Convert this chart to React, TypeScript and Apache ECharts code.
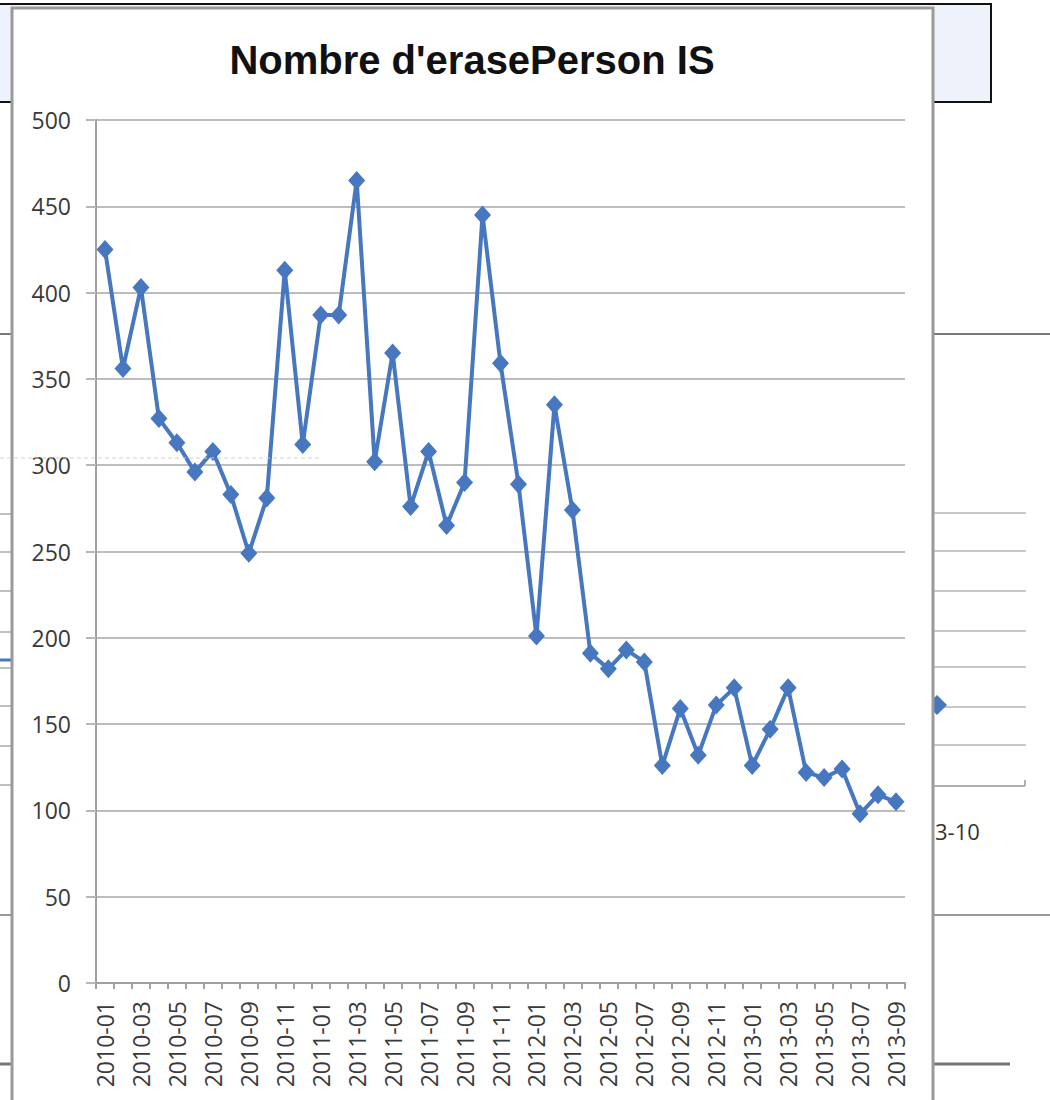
import React, { useEffect, useRef } from "react";
import * as echarts from "echarts";

const months: string[] = [
  "2010-01", "2010-02", "2010-03", "2010-04", "2010-05", "2010-06",
  "2010-07", "2010-08", "2010-09", "2010-10", "2010-11", "2010-12",
  "2011-01", "2011-02", "2011-03", "2011-04", "2011-05", "2011-06",
  "2011-07", "2011-08", "2011-09", "2011-10", "2011-11", "2011-12",
  "2012-01", "2012-02", "2012-03", "2012-04", "2012-05", "2012-06",
  "2012-07", "2012-08", "2012-09", "2012-10", "2012-11", "2012-12",
  "2013-01", "2013-02", "2013-03", "2013-04", "2013-05", "2013-06",
  "2013-07", "2013-08", "2013-09",
];

const erasePersonCounts: number[] = [
  425, 356, 403, 327, 313, 296, 308, 283, 249, 281, 413, 312,
  387, 387, 465, 302, 365, 276, 308, 265, 290, 445, 359, 289,
  201, 335, 274, 191, 182, 193, 186, 126, 159, 132, 161, 171,
  126, 147, 171, 122, 119, 124, 98, 109, 105,
];

const yMin = 0;
const yMax = 500;
const yStep = 50;

const chartTitle = "Nombre d'erasePerson IS";
const sideLabel = "3-10";

const LINE_BLUE = "#4677BF";

export default function App() {
  const ref = useRef<HTMLDivElement>(null);

  useEffect(() => {
    if (!ref.current) return;
    const chart = echarts.init(ref.current, undefined, { renderer: "svg" });

    const bg: any[] = [];
    bg.push({
      type: "rect", z: 0,
      shape: { x: -2, y: 4, width: 993, height: 98 },
      style: { fill: "#EEF2FB", stroke: "#111", lineWidth: 2 },
    });
    bg.push({ type: "line", z: 0, shape: { x1: 933, y1: 334, x2: 1050, y2: 334 }, style: { stroke: "#777", lineWidth: 2 } });
    [513, 551, 591, 631, 667, 707, 745].forEach((y) =>
      bg.push({ type: "line", z: 0, shape: { x1: 933, y1: y, x2: 1026, y2: y }, style: { stroke: "#C8C8C8", lineWidth: 2 } })
    );
    bg.push({ type: "line", z: 0, shape: { x1: 933, y1: 786, x2: 1025, y2: 786 }, style: { stroke: "#B0B0B0", lineWidth: 2 } });
    bg.push({ type: "line", z: 0, shape: { x1: 1025, y1: 786, x2: 1025, y2: 780 }, style: { stroke: "#B0B0B0", lineWidth: 2 } });
    bg.push({
      type: "polygon", z: 0,
      shape: { points: [[937, 695], [947, 705], [937, 715], [927, 705]] },
      style: { fill: LINE_BLUE },
    });
    bg.push({
      type: "text", z: 0, x: 935, y: 831,
      style: { text: sideLabel, fontFamily: "Open Sans", fontSize: 22, fill: "#333", textVerticalAlign: "middle" },
    });
    bg.push({ type: "line", z: 0, shape: { x1: 933, y1: 915, x2: 1050, y2: 915 }, style: { stroke: "#999", lineWidth: 2 } });
    bg.push({ type: "line", z: 0, shape: { x1: 933, y1: 1064, x2: 1010, y2: 1064 }, style: { stroke: "#777", lineWidth: 3 } });
    bg.push({ type: "line", z: 0, shape: { x1: 0, y1: 334, x2: 12, y2: 334 }, style: { stroke: "#777", lineWidth: 2 } });
    [514, 552, 591, 632, 668, 706, 746, 785].forEach((y) =>
      bg.push({ type: "line", z: 0, shape: { x1: 0, y1: y, x2: 12, y2: y }, style: { stroke: "#C0C0C0", lineWidth: 2 } })
    );
    bg.push({ type: "line", z: 0, shape: { x1: 0, y1: 660, x2: 12, y2: 660 }, style: { stroke: LINE_BLUE, lineWidth: 3 } });
    bg.push({ type: "line", z: 0, shape: { x1: 0, y1: 915, x2: 12, y2: 915 }, style: { stroke: "#999", lineWidth: 2 } });
    bg.push({ type: "line", z: 0, shape: { x1: 0, y1: 1064, x2: 12, y2: 1064 }, style: { stroke: "#777", lineWidth: 3 } });

    bg.push({
      type: "rect", z: 1,
      shape: { x: 12, y: 8, width: 921, height: 1100 },
      style: { fill: "#FFFFFF", stroke: "#9A9A9A", lineWidth: 3 },
    });
    bg.push({
      type: "line", z: 10,
      shape: { x1: 0, y1: 458, x2: 320, y2: 458 },
      style: { stroke: "#D0D0D0", lineWidth: 1, lineDash: [4, 3] },
    });
    bg.push({
      type: "text", z: 10, x: 472, y: 60,
      style: {
        text: chartTitle, fontFamily: "Liberation Sans", fontWeight: "bold",
        fontSize: 40, fill: "#111", textAlign: "center", textVerticalAlign: "middle",
      },
    });

    chart.setOption({
      animation: false,
      backgroundColor: "#FFFFFF",
      graphic: { elements: bg },
      grid: { left: 96, right: 145, top: 120, bottom: 117, containLabel: false },
      xAxis: {
        type: "category",
        data: months,
        boundaryGap: true,
        z: 5,
        axisLine: { lineStyle: { color: "#A0A0A0", width: 2 } },
        axisTick: { show: true, interval: 0, length: 6, lineStyle: { color: "#A0A0A0", width: 2 } },
        axisLabel: {
          interval: 1, rotate: 90, margin: 18,
          fontFamily: "Open Sans", fontSize: 23, color: "#3A3A3A",
        },
        splitLine: { show: false },
      },
      yAxis: {
        type: "value",
        min: yMin, max: yMax, interval: yStep,
        z: 5,
        axisLine: { show: true, lineStyle: { color: "#A0A0A0", width: 2 } },
        axisTick: { show: true, length: 10, lineStyle: { color: "#B8B8B8", width: 2 } },
        axisLabel: { margin: 25, fontFamily: "Open Sans", fontSize: 23, color: "#3A3A3A" },
        splitLine: { show: true, lineStyle: { color: "#BDBDBD", width: 2 } },
      },
      series: [
        {
          type: "line",
          z: 6,
          data: erasePersonCounts,
          symbol: "diamond",
          symbolSize: [17, 19],
          showAllSymbol: true,
          lineStyle: { color: LINE_BLUE, width: 4 },
          itemStyle: { color: LINE_BLUE },
        },
      ],
    });

    return () => chart.dispose();
  }, []);

  return (
    <div
      ref={ref}
      style={{ position: "fixed", left: 0, top: 0, width: 1050, height: 1100, background: "#fff" }}
    />
  );
}
